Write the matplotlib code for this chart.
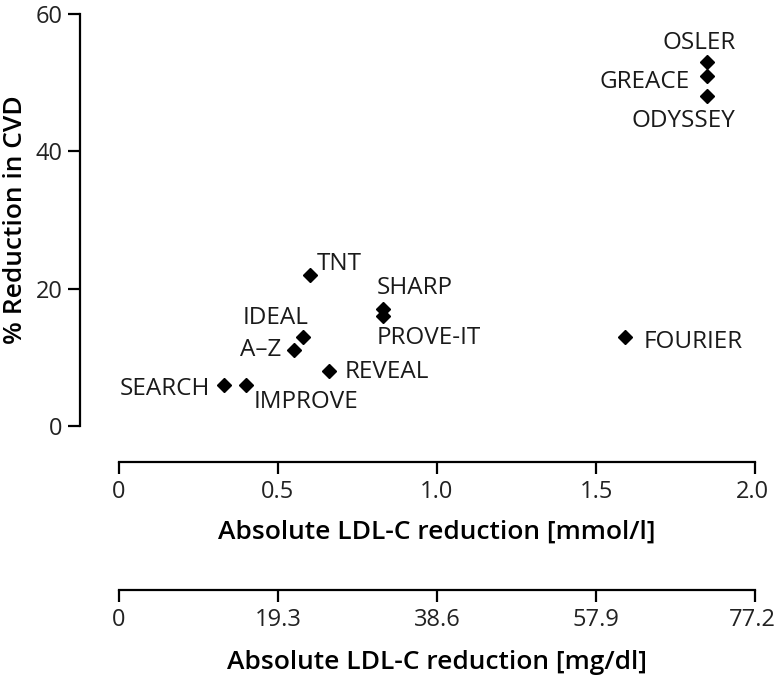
import numpy as np
import matplotlib
matplotlib.use("Agg")
import matplotlib.pyplot as plt
from matplotlib.transforms import ScaledTranslation

# trial data
studies = ["OSLER", "GREACE", "ODYSSEY", "TNT", "SHARP", "PROVE-IT",
           "IDEAL", "A\u2013Z", "REVEAL", "SEARCH", "IMPROVE", "FOURIER"]
ldl_mmol = [1.85, 1.85, 1.85, 0.60, 0.83, 0.83,
            0.58, 0.55, 0.66, 0.33, 0.40, 1.59]
cvd_pct = [53, 51, 48, 22, 17, 16,
           13, 11, 8, 6, 6, 13]

mmol_ticks = [0, 0.5, 1.0, 1.5, 2.0]
mmol_labels = ["0", "0.5", "1.0", "1.5", "2.0"]
mgdl_ticks = [0, 19.3, 38.6, 57.9, 77.2]
mgdl_labels = ["0", "19.3", "38.6", "57.9", "77.2"]
y_ticks = [0, 20, 40, 60]

# label offsets in pixels (dx, dy, ha)
label_pos = {
    "OSLER": (-8, 19, "center"),
    "GREACE": (-18, -6, "right"),
    "ODYSSEY": (-24, -25, "center"),
    "TNT": (7, 11, "left"),
    "SHARP": (-6, 21, "left"),
    "PROVE-IT": (-6, -22, "left"),
    "IDEAL": (5, 19, "right"),
    "A\u2013Z": (-13, 0, "right"),
    "REVEAL": (16, -1, "left"),
    "SEARCH": (-14, -4, "right"),
    "IMPROVE": (7, -17, "left"),
    "FOURIER": (19, -5, "left"),
}

plt.rcParams["font.family"] = ["Open Sans", "DejaVu Sans"]
plt.rcParams["font.size"] = 17.5
px = 0.72  # points per pixel at 100 dpi
lab_size = 19
tick_size = 17

fig = plt.figure(figsize=(7.75, 6.77), dpi=100)
ax = fig.add_axes([119 / 775, 251 / 677, 636 / 775, 412 / 677])

ax.plot(ldl_mmol, cvd_pct, "D", color="black", markersize=7.5, clip_on=False)
for name, x, y in zip(studies, ldl_mmol, cvd_pct):
    dx, dy, ha = label_pos[name]
    ax.annotate(name, (x, y), xytext=(dx * px, dy * px), textcoords="offset points",
                ha=ha, va="center", color="#1a1a1a")

ax.set_xlim(0, 2.0)
ax.set_ylim(0, 60)
ax.set_xticks(mmol_ticks)
ax.set_xticklabels(mmol_labels)
ax.set_yticks(y_ticks)

for s in ["top", "right"]:
    ax.spines[s].set_visible(False)
ax.spines["left"].set_position(("outward", 39 * px))
ax.spines["bottom"].set_position(("outward", 36 * px))
for s in ["left", "bottom"]:
    ax.spines[s].set_linewidth(1.6)
ax.tick_params(width=1.6, length=12 * px, pad=4, colors="black",
               labelcolor="#222222", labelsize=tick_size)

ax.set_ylabel("% Reduction in CVD", fontweight="semibold", fontsize=lab_size)
ax.yaxis.set_label_coords(-0.143, 0.5)
ax.set_xlabel("Absolute LDL-C reduction [mmol/l]", fontweight="semibold", fontsize=lab_size)
ax.xaxis.set_label_coords(0.5, -0.226)

# second x axis in mg/dl
ax2 = ax.twiny()
ax2.set_xlim(0, 77.2)
ax2.xaxis.set_ticks_position("bottom")
ax2.xaxis.set_label_position("bottom")
ax2.set_xticks(mgdl_ticks)
ax2.set_xticklabels(mgdl_labels)
for s in ["top", "right", "left"]:
    ax2.spines[s].set_visible(False)
ax2.spines["bottom"].set_position(("outward", 164 * px))
ax2.spines["bottom"].set_linewidth(1.6)
ax2.tick_params(width=1.6, length=12 * px, pad=4, colors="black",
                labelcolor="#222222", labelsize=tick_size)
ax2.set_xlabel("Absolute LDL-C reduction [mg/dl]", fontweight="semibold", fontsize=lab_size)
ax2.xaxis.set_label_coords(0.5, -0.543)

# nudge the last labels a touch left so they stay inside the figure
nudge = ScaledTranslation(-3 / 100, 0, fig.dpi_scale_trans)
for lbl in (ax.get_xticklabels()[-1], ax2.get_xticklabels()[-1]):
    lbl.set_transform(lbl.get_transform() + nudge)

fig.savefig("out.png", dpi=100)
